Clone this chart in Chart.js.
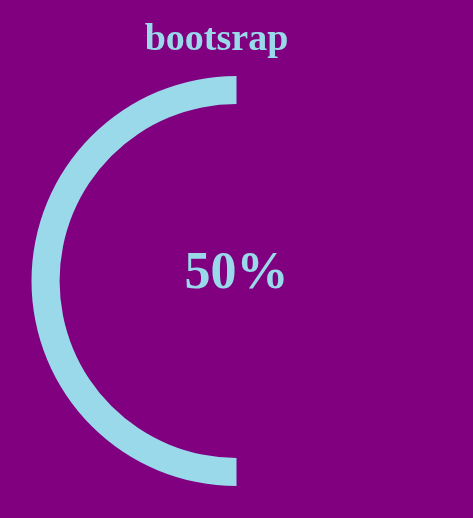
<!DOCTYPE html>
<html>
<head>
<meta charset="utf-8">
<script src="https://cdn.jsdelivr.net/npm/chart.js@4/dist/chart.umd.min.js"></script>
<style>
html,body{margin:0;padding:0;background:#800080;}
#wrap{width:473px;height:518px;}
</style>
</head>
<body>
<div id="wrap"><canvas id="c" width="473" height="518"></canvas></div>
<script>
const categories = ["progress", "remaining"];
const values = [50, 50];
const titleText = "bootsrap";
const centerText = "50%";

const arcColor = "#99d9ea";

const textPlugin = {
  id: "texts",
  afterDraw(chart) {
    const ctx = chart.ctx;
    const a = chart.chartArea;
    const cx = (a.left + a.right) / 2;
    const cy = (a.top + a.bottom) / 2;
    ctx.save();
    ctx.fillStyle = arcColor;
    ctx.textAlign = "center";
    ctx.textBaseline = "alphabetic";
    ctx.font = "bold 38px 'Liberation Serif', serif";
    ctx.fillText(titleText, cx - 20, 50);
    ctx.font = "bold 52px 'Liberation Serif', serif";
    ctx.fillText(centerText, cx, 288);
    ctx.restore();
  }
};

new Chart(document.getElementById("c"), {
  type: "doughnut",
  data: {
    labels: categories,
    datasets: [{
      data: values,
      backgroundColor: [arcColor, "rgba(0,0,0,0)"],
      borderWidth: 0,
      hoverOffset: 0
    }]
  },
  options: {
    responsive: false,
    animation: false,
    rotation: 180,
    cutout: "86.3%",
    layout: { padding: { top: 76, bottom: 32 } },
    plugins: {
      legend: { display: false },
      title: { display: false },
      tooltip: { enabled: false }
    }
  },
  plugins: [textPlugin]
});
</script>
</body>
</html>
